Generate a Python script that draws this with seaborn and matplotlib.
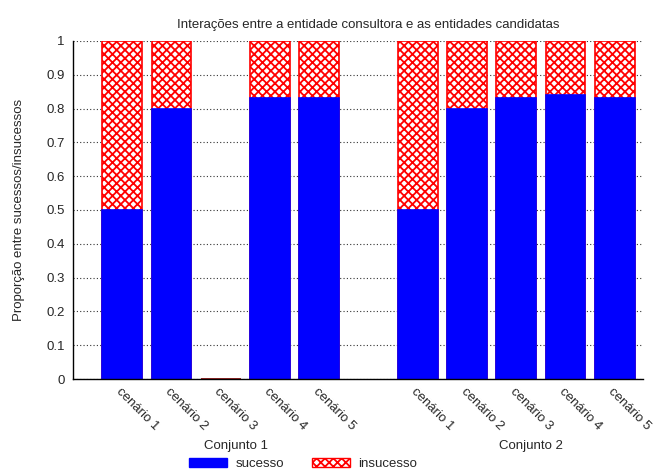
import matplotlib
matplotlib.use("Agg")
import matplotlib.pyplot as plt
import matplotlib.patches as mpatches
from matplotlib.transforms import blended_transform_factory
import numpy as np
import pandas as pd
import seaborn as sns

# Data
conjuntos = ["Conjunto 1", "Conjunto 2"]
cenarios = ["cenário 1", "cenário 2", "cenário 3", "cenário 4", "cenário 5"]
sucesso_c1 = [0.50, 0.80, 0.00, 0.83, 0.83]
sucesso_c2 = [0.50, 0.80, 0.83, 0.84, 0.83]
total_c1 = [1.0, 1.0, 0.0, 1.0, 1.0]
total_c2 = [1.0, 1.0, 1.0, 1.0, 1.0]
y_ticks = [0, 0.1, 0.2, 0.3, 0.4, 0.5, 0.6, 0.7, 0.8, 0.9, 1]
y_tick_labels = ["0", "0.1", "0.2", "0.3", "0.4", "0.5", "0.6", "0.7", "0.8", "0.9", "1"]

sns.set_theme(style="white")
plt.rcParams["font.family"] = ["Liberation Sans", "DejaVu Sans"]
plt.rcParams["hatch.linewidth"] = 1.3
FS = 9.5

n = len(cenarios)
rows = []
for g, (suc, tot) in enumerate([(sucesso_c1, total_c1), (sucesso_c2, total_c2)]):
    for i in range(n):
        rows.append({"pos": g * (n + 1) + i, "conjunto": conjuntos[g],
                     "cenario": cenarios[i], "sucesso": suc[i], "total": tot[i]})
df = pd.DataFrame(rows)

fig = plt.figure(figsize=(6.54, 4.70), dpi=100)
ax = fig.add_axes([0.1116, 0.1936, 0.8714, 0.7192])

# insucesso: hatched stack reaching the total
sns.barplot(data=df, x="pos", y="total", native_scale=True, width=0.81,
            color="white", saturation=1, edgecolor="#ff0000", linewidth=1.2,
            hatch="xxxx", errorbar=None, ax=ax)
# sucesso: solid lower part
sns.barplot(data=df, x="pos", y="sucesso", native_scale=True, width=0.81,
            color="#0000ff", saturation=1, edgecolor="#0000ff", linewidth=1.2,
            errorbar=None, ax=ax)
# empty sucesso bars leave only the red baseline of the stack visible
for bar in ax.containers[1]:
    if bar.get_height() == 0:
        bar.set_linewidth(0)
for bar in ax.containers[0]:
    if bar.get_height() == 0:
        bar.set_edgecolor("#8b0000")

ax.set_axisbelow(True)
ax.set_xlim(-1.0, 10.57)
ax.set_ylim(0, 1)
ax.set_yticks(y_ticks)
ax.set_yticklabels(y_tick_labels, fontsize=FS)
ax.yaxis.grid(True, linestyle=(0, (1, 2)), color="#333333", linewidth=0.8)
ax.xaxis.grid(False)

ax.set_xticks(df["pos"].to_numpy())
ax.set_xticklabels(df["cenario"], rotation=-45, ha="left", va="top",
                   rotation_mode="anchor", fontsize=FS)
ax.tick_params(axis="x", direction="in", length=4.5, width=0.8, color="black", pad=5)
ax.tick_params(axis="y", length=0, pad=6)

sns.despine(ax=ax, top=True, right=True)
for side in ("left", "bottom"):
    ax.spines[side].set_color("black")
    ax.spines[side].set_linewidth(1.0)

ax.set_xlabel("")
ax.set_ylabel("Proporção entre sucessos/insucessos", fontsize=FS, labelpad=15)
ax.set_title("Interações entre a entidade consultora e as entidades candidatas",
             fontsize=FS, pad=9, x=0.5175)

# group labels under the scenario names
trans = blended_transform_factory(ax.transData, fig.transFigure)
for g, name in enumerate(conjuntos):
    center = g * (n + 1) + (n - 1) / 2 + 0.3
    ax.text(center, 0.051, name, transform=trans, ha="center", va="center", fontsize=FS)

handles = [mpatches.Patch(facecolor="#0000ff", edgecolor="#0000ff", label="sucesso"),
           mpatches.Patch(facecolor="white", edgecolor="#ff0000", hatch="xxxx",
                          label="insucesso")]
fig.legend(handles=handles, loc="center", bbox_to_anchor=(0.4634, 0.0125), ncol=2,
           frameon=False, fontsize=FS, handlelength=2.9, handleheight=0.7,
           columnspacing=2.15, handletextpad=0.6, borderpad=0.0, borderaxespad=0.0)

fig.savefig("out.png", dpi=100)
